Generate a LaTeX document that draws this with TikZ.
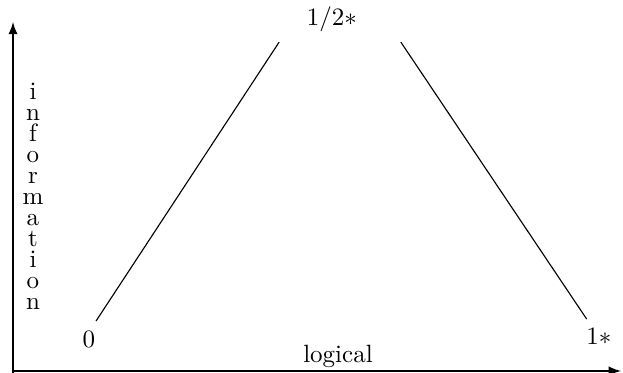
\documentclass[tikz,border=0pt]{standalone}
\usepackage{amsmath,amssymb}
\usepackage{tikz}
\usetikzlibrary{arrows,positioning,calc}

\tikzset{
    axisline/.style={line width=0.7pt, -latex},
    lattline/.style={line width=0.45pt},
    lbl/.style={anchor=base, inner sep=3.33pt}
}

\begin{document}
\begin{tikzpicture}[x=0.4pt, y=0.4pt]
            \useasboundingbox (0,0) rectangle (623,373);
            % axes
            \coordinate (origin) at (13,2);
            \coordinate (ytip) at (13,351);
            \coordinate (xtip) at (621,2);
            \coordinate (ybot) at (13,0);
            \draw[axisline] (ybot) -- (ytip);
            \draw[axisline] (origin) -- (xtip);
            \node[lbl] (logical) at (338,10) {logical};
            \foreach \ch [count=\i from 0] in {i,n,f,o,r,m,a,t,i,o,n}
                \node[lbl, inner sep=0pt] (info\i) at (33,273-21*\i) {\ch};
            % the three values
            \node[lbl] (zero) at (89,25) {$0$};
            \node[lbl] (half) at (332,347) {$1/2*$};
            \node[lbl] (one) at (599,28) {$1*$};
            \draw[lattline] ($(zero.north)+(7,2)$) -- ($(half.south west)+(-19,-1)$);
            \draw[lattline] ($(half.south east)+(35,-1)$) -- ($(one.north west)+(9,1)$);
        \end{tikzpicture}
\end{document}
